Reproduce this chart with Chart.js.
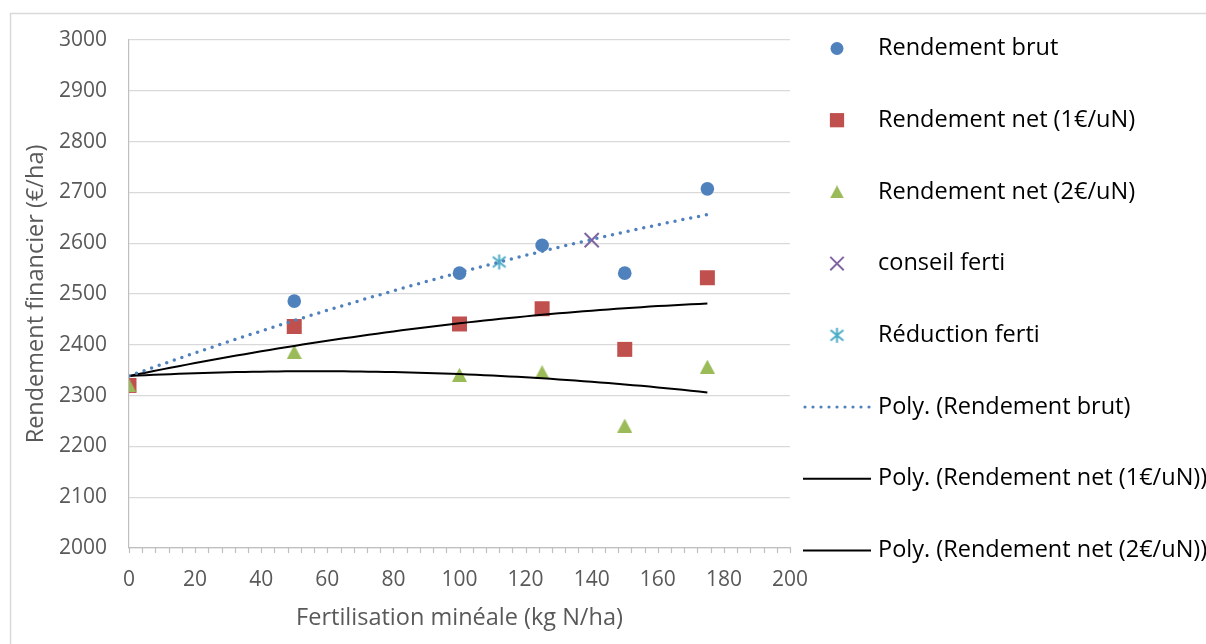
<!DOCTYPE html>
<html>
<head>
<meta charset="utf-8">
<script src="https://cdn.jsdelivr.net/npm/chart.js@4"></script>
<style>
  html, body { margin: 0; padding: 0; background: #ffffff; }
  #wrap { width: 1206px; height: 644px; position: relative; }
</style>
</head>
<body>
<div id="wrap"><canvas id="c" width="1206" height="644"></canvas></div>
<script>
// Doses of mineral nitrogen (kg N/ha)
const doses = [0, 50, 100, 125, 150, 175];
// Financial yield (€/ha)
const rendementBrut = [2320, 2486, 2541, 2596, 2541, 2707];
const rendementNet1 = [2320, 2436, 2441, 2471, 2391, 2532];
const rendementNet2 = [2320, 2386, 2341, 2346, 2241, 2357];
// Advised dose and reduced dose
const conseilFerti = [{ x: 140, y: 2606 }];
const reductionFerti = [{ x: 112, y: 2563 }];

const seriesNames = [
  'Rendement brut',
  'Rendement net (1€/uN)',
  'Rendement net (2€/uN)',
  'conseil ferti',
  'Réduction ferti',
  'Poly. (Rendement brut)',
  'Poly. (Rendement net (1€/uN))',
  'Poly. (Rendement net (2€/uN))'
];

const xAxisMin = 0, xAxisMax = 200, xAxisStep = 20, xMinorStep = 4;
const yAxisMin = 2000, yAxisMax = 3000, yAxisStep = 100;

const FONT = '"Open Sans", "DejaVu Sans", sans-serif';
const BLUE = '#4F81BD', RED = '#C0504D', GREEN = '#9BBB59', PURPLE = '#8064A2', CYAN = '#4BACC6';

// Least-squares 2nd order polynomial trend (a "Poly." trendline)
function quadFit(xs, ys) {
  const S = [[0, 0, 0], [0, 0, 0], [0, 0, 0]];
  const T = [0, 0, 0];
  xs.forEach((x, i) => {
    const p = [1, x, x * x];
    for (let r = 0; r < 3; r++) {
      for (let c = 0; c < 3; c++) S[r][c] += p[r] * p[c];
      T[r] += p[r] * ys[i];
    }
  });
  const M = S.map((row, i) => row.concat([T[i]]));
  for (let k = 0; k < 3; k++) {
    let piv = k;
    for (let r = k + 1; r < 3; r++) if (Math.abs(M[r][k]) > Math.abs(M[piv][k])) piv = r;
    [M[k], M[piv]] = [M[piv], M[k]];
    for (let r = k + 1; r < 3; r++) {
      const f = M[r][k] / M[k][k];
      for (let c = k; c < 4; c++) M[r][c] -= f * M[k][c];
    }
  }
  const coef = [0, 0, 0];
  for (let r = 2; r >= 0; r--) {
    let s = M[r][3];
    for (let c = r + 1; c < 3; c++) s -= M[r][c] * coef[c];
    coef[r] = s / M[r][r];
  }
  return coef;
}

function trendPoints(xs, ys) {
  const [a, b, c] = quadFit(xs, ys);
  const pts = [];
  const x0 = xs[0], x1 = xs[xs.length - 1];
  for (let x = x0; x <= x1 + 1e-9; x += 2.5) pts.push({ x, y: a + b * x + c * x * x });
  return pts;
}

function pairs(xs, ys) { return xs.map((x, i) => ({ x, y: ys[i] })); }

// Asterisk marker (X with a vertical bar)
function makeAsterisk(color, size) {
  const cv = document.createElement('canvas');
  cv.width = size; cv.height = size;
  const g = cv.getContext('2d');
  g.strokeStyle = color; g.lineWidth = 2; g.lineCap = 'butt';
  const m = size / 2, r = size / 2 - 1;
  g.beginPath();
  g.moveTo(m, m - r); g.lineTo(m, m + r);
  g.moveTo(m - r * 0.85, m - r * 0.7); g.lineTo(m + r * 0.85, m + r * 0.7);
  g.moveTo(m - r * 0.85, m + r * 0.7); g.lineTo(m + r * 0.85, m - r * 0.7);
  g.stroke();
  return cv;
}

// Triangle marker centred on its bounding box
function makeTriangle(color, w, h) {
  const cv = document.createElement('canvas');
  cv.width = w; cv.height = h;
  const g = cv.getContext('2d');
  g.fillStyle = color;
  g.beginPath();
  g.moveTo(w / 2, 0);
  g.lineTo(w, h);
  g.lineTo(0, h);
  g.closePath();
  g.fill();
  return cv;
}

const asterisk = makeAsterisk(CYAN, 17);
const triangle = makeTriangle(GREEN, 15, 14);
const triangleSmall = makeTriangle(GREEN, 14, 13);

const datasets = [
  { label: seriesNames[0], data: pairs(doses, rendementBrut), pointStyle: 'circle', pointRadius: 6.8,
    backgroundColor: BLUE, borderColor: BLUE, pointBorderWidth: 0, showLine: false, order: 5 },
  { label: seriesNames[1], data: pairs(doses, rendementNet1), pointStyle: 'rect', pointRadius: 10.6,
    backgroundColor: RED, borderColor: RED, pointBorderWidth: 0, showLine: false, order: 4 },
  { label: seriesNames[2], data: pairs(doses, rendementNet2), pointStyle: triangle, pointRadius: 8,
    backgroundColor: GREEN, borderColor: GREEN, pointBorderWidth: 0, showLine: false, order: 3,
    legendStyle: triangleSmall },
  { label: seriesNames[3], data: conseilFerti, pointStyle: 'crossRot', pointRadius: 10,
    backgroundColor: PURPLE, borderColor: PURPLE, pointBorderWidth: 2, showLine: false, order: 2 },
  { label: seriesNames[4], data: reductionFerti, pointStyle: asterisk, pointRadius: 8,
    backgroundColor: CYAN, borderColor: CYAN, showLine: false, order: 1 },
  { label: seriesNames[5], data: trendPoints(doses, rendementBrut), showLine: true, pointRadius: 0,
    borderColor: BLUE, borderWidth: 3.5, borderDash: [0, 8], borderCapStyle: 'round', tension: 0, order: 0 },
  { label: seriesNames[6], data: trendPoints(doses, rendementNet1), showLine: true, pointRadius: 0,
    borderColor: '#000000', borderWidth: 2, tension: 0, order: 0 },
  { label: seriesNames[7], data: trendPoints(doses, rendementNet2), showLine: true, pointRadius: 0,
    borderColor: '#000000', borderWidth: 2, tension: 0, order: 0 }
];

// Outer frame of the chart
const framePlugin = {
  id: 'frame',
  beforeDraw(chart) {
    const ctx = chart.ctx;
    ctx.save();
    ctx.strokeStyle = '#D9D9D9';
    ctx.lineWidth = 1.5;
    ctx.beginPath();
    ctx.moveTo(10.5, chart.height);
    ctx.lineTo(10.5, 13.5);
    ctx.lineTo(chart.width, 13.5);
    ctx.stroke();
    ctx.restore();
  }
};

// Small tick marks under the x axis
const minorTicksPlugin = {
  id: 'minorTicks',
  afterDraw(chart) {
    const xs = chart.scales.x, ctx = chart.ctx;
    const y0 = chart.chartArea.bottom;
    ctx.save();
    ctx.strokeStyle = '#BFBFBF';
    ctx.lineWidth = 1.2;
    ctx.beginPath();
    for (let v = xAxisMin; v <= xAxisMax + 1e-9; v += xMinorStep) {
      const px = Math.round(xs.getPixelForValue(v)) + 0.5;
      ctx.moveTo(px, y0);
      ctx.lineTo(px, y0 + 5);
    }
    ctx.stroke();
    ctx.restore();
  }
};

// Legend on the right side
const legendPlugin = {
  id: 'sideLegend',
  afterDraw(chart) {
    const ctx = chart.ctx;
    const markX = 837, lineX0 = 803, lineX1 = 871, textX = 878;
    const top = 48.5, step = 71.7;
    ctx.save();
    chart.data.datasets.forEach((ds, i) => {
      const y = top + i * step;
      if (ds.showLine) {
        ctx.save();
        ctx.strokeStyle = ds.borderColor;
        ctx.lineWidth = ds.borderDash ? 3.2 : ds.borderWidth;
        ctx.lineCap = ds.borderCapStyle || 'butt';
        ctx.setLineDash(ds.borderDash || []);
        ctx.beginPath();
        ctx.moveTo(lineX0 + (ds.borderDash ? 2 : 0), y);
        ctx.lineTo(lineX1, y);
        ctx.stroke();
        ctx.restore();
      } else {
        ctx.save();
        ctx.fillStyle = ds.backgroundColor;
        ctx.strokeStyle = ds.borderColor;
        ctx.lineWidth = ds.pointBorderWidth || 2;
        const style = ds.legendStyle || ds.pointStyle;
        const r = ds.pointStyle === 'circle' ? 6.5 : ds.pointRadius * 0.95;
        Chart.helpers.drawPoint(ctx, { pointStyle: style, rotation: 0, radius: r, borderWidth: ds.pointBorderWidth || 0 }, markX, y);
        ctx.restore();
      }
      ctx.fillStyle = '#000000';
      ctx.font = '23.5px ' + FONT;
      ctx.textBaseline = 'middle';
      ctx.textAlign = 'left';
      ctx.fillText(ds.label, textX, y);
    });
    ctx.restore();
  }
};

new Chart(document.getElementById('c'), {
  type: 'scatter',
  data: { datasets },
  options: {
    responsive: false,
    animation: false,
    devicePixelRatio: 1,
    layout: { padding: { left: 10, top: 40, right: 416, bottom: 0 } },
    plugins: { legend: { display: false }, tooltip: { enabled: false } },
    scales: {
      x: {
        type: 'linear',
        min: xAxisMin, max: xAxisMax,
        afterFit(scale) { scale.height = 96; },
        ticks: { stepSize: xAxisStep, color: '#595959', font: { family: FONT, size: 21 }, padding: 19,
                 maxRotation: 0, callback: (v) => String(v) },
        grid: { display: false, drawTicks: false },
        border: { display: true, color: '#BFBFBF', width: 1.2 },
        title: { display: true, text: 'Fertilisation minéale (kg N/ha)', color: '#595959',
                 font: { family: FONT, size: 23.5 }, padding: { top: 0, bottom: 12 } }
      },
      y: {
        type: 'linear',
        min: yAxisMin, max: yAxisMax,
        afterFit(scale) { scale.width = 119; },
        ticks: { stepSize: yAxisStep, color: '#595959', font: { family: FONT, size: 21 }, padding: 22,
                 callback: (v) => String(v) },
        grid: { color: '#D9D9D9', lineWidth: 1.3, drawTicks: false },
        border: { display: true, color: '#BFBFBF', width: 1.2 },
        title: { display: true, text: 'Rendement financier (€/ha)', color: '#595959',
                 font: { family: FONT, size: 23.5 }, padding: { top: 12, bottom: 0 } }
      }
    }
  },
  plugins: [framePlugin, minorTicksPlugin, legendPlugin]
});
</script>
</body>
</html>
